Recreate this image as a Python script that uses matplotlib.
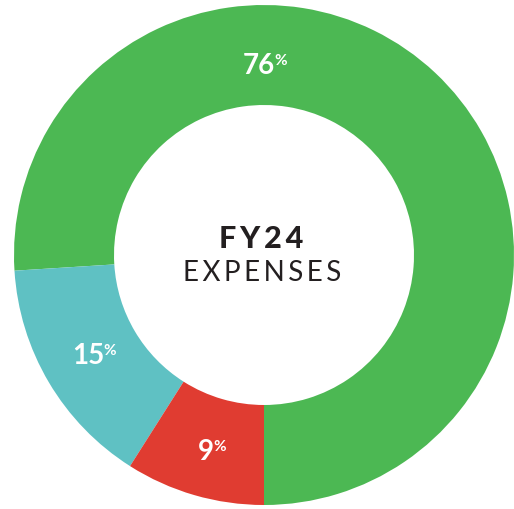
import matplotlib
matplotlib.use("Agg")
import matplotlib.pyplot as plt

categories = ["Program", "Management", "Fundraising"]
values = [76, 15, 9]
colors = ["#4cb853", "#5fc1c3", "#e03c31"]
pct_labels = ["76", "15", "9"]

W, H = 514, 509
fig = plt.figure(figsize=(W / 100, H / 100), dpi=100)
ax = fig.add_axes([0, 0, 1, 1])

cx, cy, R = 264, H - 255, 250
ax.pie(values, colors=colors, startangle=-90, counterclock=True,
       center=(cx, cy), radius=R,
       wedgeprops=dict(width=100, edgecolor="none"))
ax.set_xlim(0, W)
ax.set_ylim(0, H)
ax.set_aspect("equal")
ax.axis("off")

# label positions (pixel, from top)
label_pos = {"76": (259, 66), "15": (88, 356), "9": (206, 452)}
for lab in pct_labels:
    x, y = label_pos[lab]
    t = ax.text(x, H - y, lab, color="white", fontsize=20, fontweight="bold",
                family="Lato", ha="center", va="center")
    fig.canvas.draw()
    bb = t.get_window_extent()
    ax.text(bb.x1 - 1, bb.y1 - 1, "%", color="white", fontsize=11, fontweight="bold",
            family="Lato", ha="left", va="top", transform=None)

ax.text(261, H - 239, "\u2009".join("FY24"), fontsize=22, fontweight="black", family="Lato",
        color="#231f20", ha="center", va="center")
ax.text(262, H - 273, "\u2009".join("EXPENSES"), fontsize=20, fontweight="normal",
        family="Lato", color="#231f20", ha="center", va="center")

fig.savefig("out.png", dpi=100)
